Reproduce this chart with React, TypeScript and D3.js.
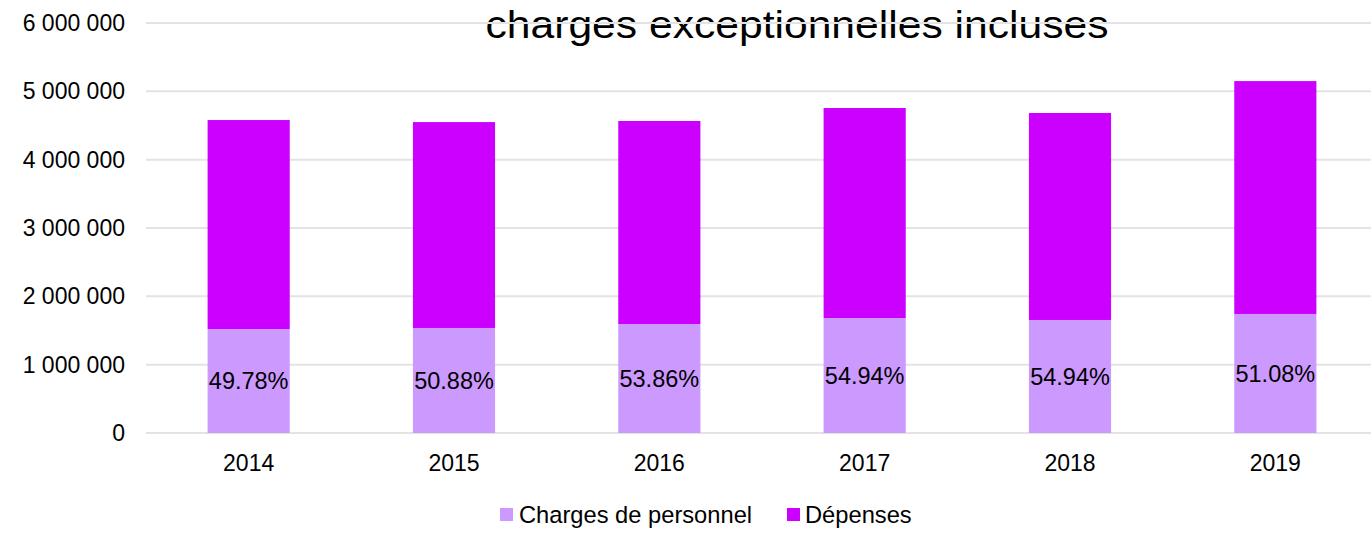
import React from 'react';
import * as d3 from 'd3';

const years = ['2014', '2015', '2016', '2017', '2018', '2019'];
const personnel = [1522000, 1537000, 1595000, 1683000, 1654000, 1742000];
const depenses = [3058000, 3013000, 2971000, 3073000, 3029000, 3408000];
const pctLabels = ['49.78%', '50.88%', '53.86%', '54.94%', '54.94%', '51.08%'];
const yTicks = [0, 1000000, 2000000, 3000000, 4000000, 5000000, 6000000];
const seriesNames = ['Charges de personnel', 'Dépenses'];

const width = 1371;
const height = 533;
const colors = ['#CC99FF', '#CC00FF'];
const font = 'Liberation Sans, Arial, sans-serif';

const fmt = (v: number) => d3.format(',')(v).replace(/,/g, ' ');

export default function App() {
  const x = d3.scaleBand().domain(years).range([146, 1378]).paddingInner(0.6).paddingOuter(0.3);
  const y = d3.scaleLinear().domain([0, 6000000]).range([433, 23]);

  const rows = years.map((yr, i) => ({ year: yr, p: personnel[i], d: depenses[i] }));
  const stacked = d3.stack<any>().keys(['p', 'd'])(rows);

  return (
    <svg width={width} height={height} style={{ position: 'absolute', left: 0, top: 0, background: '#fff' }}>
      <text x={797} y={38} textAnchor="middle" fontFamily={font} fontSize={38}
        textLength={623} lengthAdjust="spacingAndGlyphs" fill="#000">
        charges exceptionnelles incluses
      </text>
      {yTicks.map(t => (
        <g key={t}>
          <line x1={146} x2={width} y1={y(t)} y2={y(t)} stroke="#e3e3e3" strokeWidth={2} />
          <text x={125} y={y(t)} dy="0.35em" textAnchor="end" fontFamily={font} fontSize={23} fill="#000">
            {fmt(t)}
          </text>
        </g>
      ))}
      {stacked.map((s, si) => (
        <g key={si}>
          {s.map((d, i) => (
            <rect key={i} x={x(years[i])} width={x.bandwidth()} y={y(d[1])} height={y(d[0]) - y(d[1])}
              fill={colors[si]} />
          ))}
        </g>
      ))}
      {stacked[0].map((d, i) => (
        <text key={i} x={(x(years[i]) as number) + x.bandwidth() / 2} y={(y(d[0]) + y(d[1])) / 2}
          dy="0.35em" textAnchor="middle" fontFamily={font} fontSize={23.5} fill="#000">
          {pctLabels[i]}
        </text>
      ))}
      {years.map(yr => (
        <text key={yr} x={(x(yr) as number) + x.bandwidth() / 2} y={463} dy="0.35em" textAnchor="middle"
          fontFamily={font} fontSize={23} fill="#000">
          {yr}
        </text>
      ))}
      <g>
        <rect x={500} y={508} width={13} height={13} fill={colors[0]} />
        <text x={519} y={515} dy="0.35em" fontFamily={font} fontSize={23.7} fill="#000">{seriesNames[0]}</text>
        <rect x={787} y={508} width={13} height={13} fill={colors[1]} />
        <text x={805} y={515} dy="0.35em" fontFamily={font} fontSize={23.7} fill="#000">{seriesNames[1]}</text>
      </g>
    </svg>
  );
}
